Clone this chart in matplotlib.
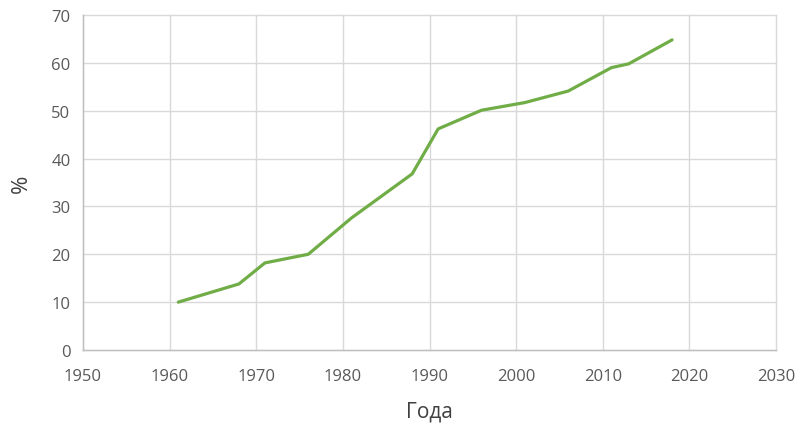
import matplotlib
matplotlib.use("Agg")
import matplotlib.pyplot as plt

years = [1961, 1968, 1971, 1976, 1981, 1988, 1991, 1996, 2001, 2006, 2011, 2013, 2018]
percent = [10, 13.8, 18.2, 20, 27.6, 36.8, 46.2, 50.1, 51.7, 54.1, 59, 59.8, 64.8]

plt.rcParams["font.family"] = ["Open Sans", "DejaVu Sans"]

W, H = 802, 427
fig = plt.figure(figsize=(W / 100, H / 100), dpi=100)
ax = fig.add_axes([83 / W, (H - 351) / H, (776 - 83) / W, (351 - 16) / H])

ax.plot(years, percent, color="#70ad47", lw=2.3, solid_capstyle="round", zorder=3)

ax.set_xlim(1950, 2030)
ax.set_ylim(0, 70)
ax.set_xticks(range(1950, 2031, 10))
ax.set_yticks(range(0, 71, 10))
ax.grid(True, color="#d9d9d9", lw=1, clip_on=False)
ax.set_axisbelow(True)

for s in ["top", "right"]:
    ax.spines[s].set_visible(False)
for s in ["left", "bottom"]:
    ax.spines[s].set_color("#bfbfbf")
    ax.spines[s].set_linewidth(1)

ax.tick_params(length=0, labelsize=12, colors="#595959")
ax.tick_params(axis="x", pad=13)
ax.tick_params(axis="y", pad=9)
ax.set_xlabel("Года", fontsize=15, color="#404040", labelpad=12)
ax.set_ylabel("%", fontsize=16, color="#404040", labelpad=14)

fig.savefig("out.png", dpi=100)
